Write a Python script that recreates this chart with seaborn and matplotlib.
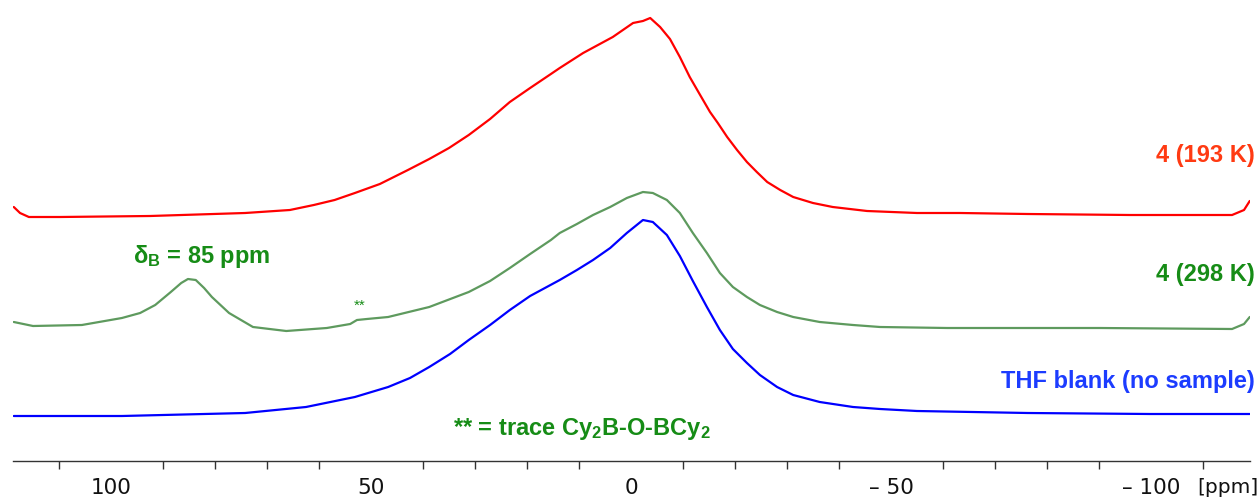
import numpy as np
import pandas as pd
import seaborn as sns
import matplotlib.pyplot as plt
from matplotlib.ticker import FixedLocator, FuncFormatter

# 11B NMR traces: chemical shift (ppm) and intensity above each trace's baseline
red_ppm = [118.7, 117.5, 115.8, 109.8, 92.5, 74.2, 65.6, 61.0, 57.0, 53.1, 48.3, 42.9,
           38.8, 35.0, 31.2, 27.1, 23.3, 19.4, 15.4, 13.7, 9.2, 3.5, -0.4, -2.3,
           -3.7, -5.6, -7.5, -9.4, -11.3, -13.3, -15.2, -16.7, -18.5, -20.4, -22.3,
           -24.2, -26.2, -28.7, -31.2, -35.0, -38.8, -45.4, -55.0, -63.3, -76.3, -96.0,
           -115.6, -117.9, -119.0]
red_int = [8, 2, -2, -2, -1, 2, 5, 10, 15, 22, 31, 45,
           56, 67, 80, 96, 113, 127, 141, 147, 162, 178, 192, 194,
           197, 188, 176, 158, 138, 120, 103, 92, 78, 65, 53,
           43, 33, 25, 18, 12, 8, 4, 2, 2, 1, 0,
           0, 5, 14]

green_ppm = [118.7, 115.0, 105.6, 97.9, 94.4, 91.5, 88.5, 86.5, 85.2, 83.7, 82.1, 80.6,
             77.3, 72.7, 66.3, 58.5, 54.0, 52.7, 50.8, 46.7, 38.8, 31.2, 27.1, 23.3,
             19.4, 15.4, 13.7, 10.4, 7.3, 4.0, 0.8, -2.3, -4.2, -6.9, -9.4, -11.9,
             -14.6, -17.1, -19.6, -22.3, -24.8, -28.1, -31.2, -36.3, -42.7, -47.9,
             -60.8, -90.2, -115.6, -117.9, -119.0]
green_int = [4, 0, 1, 8, 13, 21, 34, 43, 47, 46, 38, 29,
             13, -1, -5, -2, 2, 6, 7, 9, 19, 34, 45, 58,
             72, 86, 93, 102, 111, 119, 128, 134, 133, 126, 113, 93,
             73, 53, 39, 29, 21, 14, 9, 4, 1, -1,
             -2, -2, -3, 2, 9]

blue_ppm = [118.7, 97.9, 74.2, 62.5, 53.1, 46.7, 42.5, 38.8, 34.8, 31.2, 27.1, 23.3,
            19.4, 13.7, 10.4, 7.3, 4.0, 0.8, -2.3, -4.2, -6.9, -9.4, -11.9, -14.6,
            -17.1, -19.6, -22.3, -24.8, -28.1, -31.2, -36.3, -42.7, -47.9, -55.0,
            -76.3, -99.8, -119.0]
blue_int = [0, 0, 3, 9, 19, 29, 38, 49, 62, 76, 91, 106,
            120, 136, 146, 156, 168, 183, 196, 194, 181, 160, 135, 109,
            86, 67, 53, 41, 29, 21, 14, 9, 7, 5,
            3, 2, 2]

trace_names = ["4 (193 K)", "4 (298 K)", "THF blank (no sample)"]
major_ticks = [100, 50, 0, -50, -100]
minor_ticks = [110, 90, 80, 70, 60, 40, 30, 20, 10, -10, -20, -30, -40, -60, -70, -80, -90, -110]

# vertical stacking of the three spectra
offsets = {trace_names[0]: 246, trace_names[1]: 135, trace_names[2]: 45}
line_colors = {trace_names[0]: "#ff0000", trace_names[1]: "#5e9a5e", trace_names[2]: "#0000ff"}
text_colors = {trace_names[0]: "#ff3a12", trace_names[1]: "#168c16", trace_names[2]: "#1c3cff"}

frames = []
for name, ppm, inten in zip(trace_names, [red_ppm, green_ppm, blue_ppm],
                            [red_int, green_int, blue_int]):
    frames.append(pd.DataFrame({"ppm": ppm, "intensity": inten, "trace": name}))
df = pd.concat(frames, ignore_index=True)
df["y"] = df["intensity"] + df["trace"].map(offsets)

sns.set_theme(style="white")
plt.rcParams["font.family"] = ["Liberation Sans", "DejaVu Sans"]
plt.rcParams["mathtext.fontset"] = "custom"
plt.rcParams["mathtext.rm"] = "Liberation Sans"
plt.rcParams["mathtext.bf"] = "Liberation Sans:bold"
plt.rcParams["mathtext.it"] = "Liberation Sans:italic"

fig = plt.figure(figsize=(12.6, 5), dpi=100)
ax = fig.add_axes([13 / 1260, 39 / 500, 1237 / 1260, 461 / 500])

sns.lineplot(data=df, x="ppm", y="y", hue="trace", palette=line_colors,
             estimator=None, sort=False, legend=False, linewidth=1.6, ax=ax)

ax.set_xlim(118.85, -119.05)
ax.set_ylim(0, 461)
ax.set_xlabel("")
ax.set_ylabel("")
ax.set_yticks([])
for side in ["top", "left", "right"]:
    ax.spines[side].set_visible(False)
ax.spines["bottom"].set_color("#333333")
ax.spines["bottom"].set_linewidth(1.0)

tick_len, tick_pad, tick_size = 8.5, 4, 15.5
ax.xaxis.set_major_locator(FixedLocator(major_ticks))
ax.xaxis.set_minor_locator(FixedLocator(minor_ticks))
ax.xaxis.set_major_formatter(FuncFormatter(
    lambda v, pos: f"\u2013 {abs(int(v))}" if v < 0 else f"{int(v)}"))
ax.tick_params(axis="x", which="major", direction="out", length=tick_len, width=1.0,
               color="#333333", pad=tick_pad, labelsize=tick_size, labelcolor="#111111")
ax.tick_params(axis="x", which="minor", direction="out", length=6, width=1.0,
               color="#333333", bottom=True)
tick_family = ["Liberation Sans Narrow", "DejaVu Sans Condensed", "DejaVu Sans"]
for lab in ax.get_xticklabels():
    lab.set_family(tick_family)

# unit label placed on the tick-label row
ax.annotate("[ppm]", xy=(-108.9, 0), xycoords=("data", "axes fraction"),
            xytext=(0, -(tick_len + tick_pad)), textcoords="offset points",
            ha="left", va="top", fontsize=14.5, color="#111111",
            family=tick_family, annotation_clip=False)

# trace labels on the right
label_y = {trace_names[0]: 299, trace_names[1]: 180, trace_names[2]: 73}
for name in trace_names:
    ax.text(1.004, label_y[name], name, transform=ax.get_yaxis_transform(),
            ha="right", va="baseline", fontsize=17, fontweight="bold",
            color=text_colors[name])

green_txt = text_colors[trace_names[1]]
ax.text(95.8, 198, r"δ$_{\mathbf{B}}$ = 85 ppm", ha="left", va="baseline",
        fontsize=17, fontweight="bold", color=green_txt)
ax.text(52.1, 155, "**", ha="center", va="center", fontsize=11, color=green_txt)
ax.text(34.2, 26, r"** = trace Cy$_{\mathbf{2}}$B-O-BCy$_{\mathbf{2}}$", ha="left",
        va="baseline", fontsize=17, fontweight="bold", color=green_txt)

fig.savefig("out.png", dpi=100)
